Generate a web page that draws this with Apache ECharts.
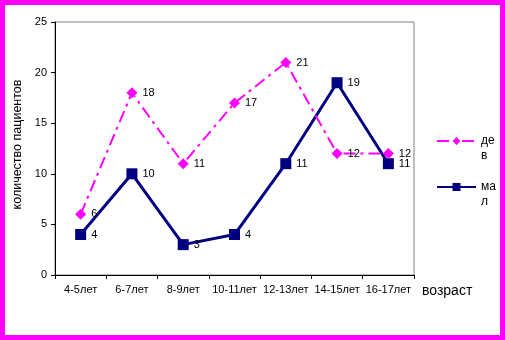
<!DOCTYPE html>
<html><head><meta charset="utf-8">
<script src="https://cdn.jsdelivr.net/npm/echarts@6/dist/echarts.min.js"></script>
<style>
html,body{margin:0;padding:0;background:#fff;}
#wrap{position:relative;width:505px;height:340px;}
#chart{position:absolute;left:0;top:0;width:505px;height:340px;}
#frame{position:absolute;left:0;top:0;width:505px;height:340px;box-sizing:border-box;border:5px solid #ff00ff;pointer-events:none;}
</style></head>
<body>
<div id="wrap"><div id="chart"></div><div id="frame"></div></div>
<script>
const categories = ['4-5лет','6-7лет','8-9лет','10-11лет','12-13лет','14-15лет','16-17лет'];
const devValues = [6, 18, 11, 17, 21, 12, 12];
const malValues = [4, 10, 3, 4, 11, 19, 11];
const yTicks = {min: 0, max: 25, interval: 5};
const seriesNames = ['дев', 'мал'];
const axisNames = {x: 'возраст', y: 'количество пациентов'};

const font = 'Liberation Sans, Arial, sans-serif';
const chart = echarts.init(document.getElementById('chart'), null, {renderer: 'canvas'});
const labelCfg = {show: true, position: 'right', distance: 5, color: '#000', fontSize: 11, fontFamily: font};
chart.setOption({
  animation: false,
  backgroundColor: '#fff',
  grid: {left: 55, top: 22, right: 91, bottom: 65, show: true, borderColor: '#808080', borderWidth: 1, backgroundColor: 'transparent'},
  legend: {
    orient: 'vertical', left: 431, top: 113.5, itemWidth: 39, itemHeight: 10, itemGap: 1,
    formatter: n => ' \n' + n.slice(0, 2) + '\n' + n.slice(2),
    textStyle: {fontSize: 12, fontFamily: font, color: '#000', lineHeight: 15},
    data: seriesNames
  },
  xAxis: {
    type: 'category', data: categories, boundaryGap: true,
    name: axisNames.x, nameLocation: 'end', nameGap: 8,
    nameTextStyle: {fontSize: 14, fontFamily: font, color: '#000', verticalAlign: 'top', align: 'left', padding: [9, 0, 0, 0]},
    axisLine: {lineStyle: {color: '#000', width: 1}},
    axisTick: {show: true, length: 4, alignWithLabel: false, lineStyle: {color: '#000'}},
    axisLabel: {fontSize: 11, fontFamily: font, color: '#000', margin: 9, interval: 0}
  },
  yAxis: {
    type: 'value', min: yTicks.min, max: yTicks.max, interval: yTicks.interval,
    name: axisNames.y, nameLocation: 'middle', nameGap: 25,
    nameTextStyle: {fontSize: 12.5, fontFamily: font, color: '#000', padding: [0, 0, 0, 8]},
    axisLine: {show: true, lineStyle: {color: '#000', width: 1}},
    axisTick: {show: true, length: 4, lineStyle: {color: '#000'}},
    splitLine: {show: false},
    axisLabel: {fontSize: 11, fontFamily: font, color: '#000', margin: 8}
  },
  series: [
    {
      name: seriesNames[0], type: 'line', data: devValues,
      symbol: 'diamond', symbolSize: 11,
      itemStyle: {color: '#ff00ff'},
      lineStyle: {color: '#ff00ff', width: 2, type: [12, 5, 3, 5]},
      label: labelCfg, z: 3
    },
    {
      name: seriesNames[1], type: 'line', data: malValues,
      symbol: 'rect', symbolSize: 11,
      itemStyle: {color: '#000080'},
      lineStyle: {color: '#000080', width: 3},
      label: labelCfg, z: 2
    }
  ]
});
</script>
</body></html>
